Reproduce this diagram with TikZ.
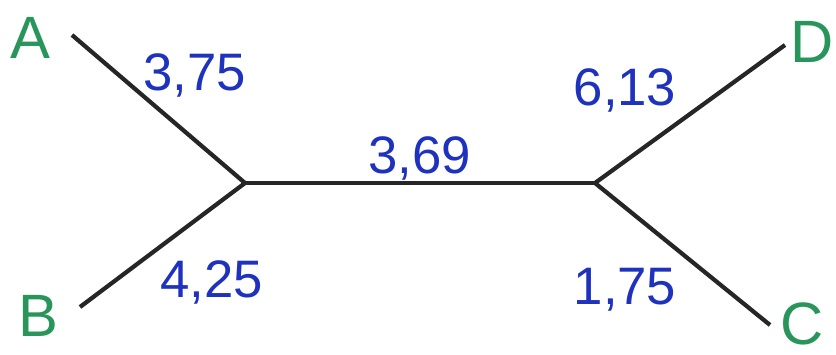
\documentclass[tikz,border=0pt]{standalone}
\usepackage{fontspec}
\setmainfont{Liberation Sans}
\definecolor{leafgreen}{RGB}{40,150,90}
\definecolor{numblue}{RGB}{30,50,190}
\tikzset{
  edge/.style={line width=1.2pt, black!85},
  leaf/.style={text=leafgreen, font=\fontsize{17}{19}\selectfont, inner sep=0pt},
  num/.style={text=numblue, font=\fontsize{15}{17}\selectfont, inner sep=0pt}
}
\begin{document}
\begin{tikzpicture}[x=0.01cm, y=-0.01cm]
\useasboundingbox (0,0) rectangle (836,354);
\coordinate (eA) at (72,35);
\coordinate (eB) at (80,307);
\coordinate (eD) at (785,45);
\coordinate (eC) at (770,325);
\coordinate (L) at (245,183);
\coordinate (R) at (595,183);
\draw[edge] (eA) -- (L);
\draw[edge] (eB) -- (L);
\draw[edge] (L) -- (R);
\draw[edge] (eD) -- (R);
\draw[edge] (eC) -- (R);
\node[leaf] (A) at (30,38) {A};
\node[leaf] (B) at (38,316) {B};
\node[leaf] (D) at (812,42) {D};
\node[leaf] (C) at (802,324) {C};
\node[num] (n1) at (195,75) {3,75};
\node[num] (n2) at (212,282) {4,25};
\node[num] (n3) at (420,158) {3,69};
\node[num] (n4) at (625,90) {6,13};
\node[num] (n5) at (625,290) {1,75};
\end{tikzpicture}
\end{document}
